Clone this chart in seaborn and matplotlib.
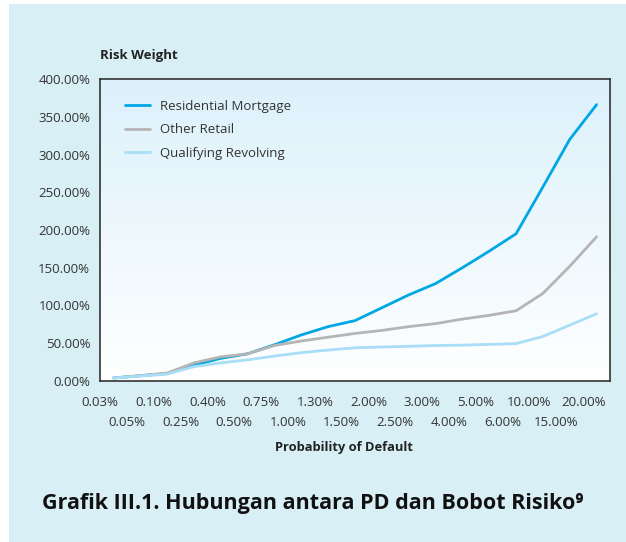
import matplotlib
matplotlib.use("Agg")
import matplotlib.pyplot as plt
import seaborn as sns
import numpy as np
import pandas as pd
from matplotlib.colors import LinearSegmentedColormap
from matplotlib.patches import Rectangle
from matplotlib.lines import Line2D

# data
pd_labels = ["0.03%", "0.05%", "0.10%", "0.25%", "0.40%", "0.50%", "0.75%", "1.00%",
             "1.30%", "1.50%", "2.00%", "2.50%", "3.00%", "4.00%", "5.00%", "6.00%",
             "10.00%", "15.00%", "20.00%"]
residential_mortgage = [4, 7, 10, 21, 30, 36, 48, 61, 72, 80, 97, 114, 129, 150, 172, 195, 257, 320, 366]
other_retail = [4, 7, 10.5, 24, 32, 36, 47, 53, 58, 63, 67, 72, 76, 82, 87, 93, 116, 152, 191]
qualifying_revolving = [4, 6.5, 9, 19, 24, 28, 33, 37.5, 41, 44, 45, 46, 47, 47.5, 48.5, 49.5, 59, 74, 89]

series_names = ["Residential Mortgage", "Other Retail", "Qualifying Revolving"]
colors = ["#00a7e4", "#b5b5b5", "#a8def6"]

sns.set_style("white")
plt.rcParams["font.family"] = ["Open Sans", "DejaVu Sans"]

rows = []
for name, vals in zip(series_names, [residential_mortgage, other_retail, qualifying_revolving]):
    for i, v in enumerate(vals):
        rows.append({"pos": i + 0.5, "rw": v, "series": name})
df = pd.DataFrame(rows)

fig = plt.figure(figsize=(6.26, 5.42), dpi=100)
fig.patch.set_facecolor("white")
fig.add_artist(Rectangle((9 / 626, 0), 1, 1 - 4 / 542, transform=fig.transFigure,
                         facecolor="#d8eff6", edgecolor="none", zorder=0))

ax = fig.add_axes([100 / 626, 161 / 542, 510 / 626, 302 / 542])
ax.set_facecolor("white")

# vertical gradient background of plot area
cmap = LinearSegmentedColormap.from_list("bg", ["#ffffff", "#dcf1fb"])
grad = np.linspace(0, 1, 256).reshape(-1, 1)
ax.imshow(grad, extent=[0, 1, 0, 1], transform=ax.transAxes, origin="lower",
          aspect="auto", cmap=cmap, zorder=0)

sns.lineplot(data=df, x="pos", y="rw", hue="series", hue_order=series_names,
             palette=colors, linewidth=2.0, legend=False, ax=ax, zorder=3)

ax.set_xlim(0, 19)
ax.set_ylim(0, 400)
ax.set_yticks(np.arange(0, 401, 50))
ax.set_yticklabels([f"{v:.2f}%" for v in np.arange(0, 401, 50)])

# two staggered rows of x labels: even ones on major ticks, odd ones on minor ticks
ax.set_xticks(range(0, 20, 2))
ax.set_xticklabels(pd_labels[0::2])
ax.set_xticks(range(1, 20, 2), minor=True)
ax.set_xticklabels(pd_labels[1::2] + [""], minor=True)

ax.tick_params(axis="both", which="both", direction="out", length=4, width=1,
               color="#333333", labelsize=9.5, labelcolor="#333333", pad=3)
ax.tick_params(axis="x", which="major", pad=7)
ax.tick_params(axis="x", which="minor", pad=21)
for sp in ax.spines.values():
    sp.set_color("#333333")
    sp.set_linewidth(1.2)

ax.set_xlabel("")
ax.set_ylabel("")

handles = [Line2D([0], [0], color=c, lw=2.0) for c in colors]
ax.legend(handles, series_names, loc="upper left", bbox_to_anchor=(0.025, 0.97),
          frameon=False, fontsize=9.5, handlelength=1.9, handletextpad=0.75,
          labelspacing=0.8, labelcolor="#333333")

fig.text(100 / 626, 1 - 55 / 542, "Risk Weight", fontsize=9.5, fontweight="bold",
         color="#222222", ha="left", va="center")
fig.text(344 / 626, 1 - 448 / 542, "Probability of Default", fontsize=9.3,
         fontweight="bold", color="#222222", ha="center", va="center")
fig.text(313 / 626, 1 - 503 / 542, "Grafik III.1. Hubungan antara PD dan Bobot Risiko\u2079",
         fontsize=15.5, fontweight="bold", color="#111111", ha="center", va="center")

fig.savefig("out.png", dpi=100)
